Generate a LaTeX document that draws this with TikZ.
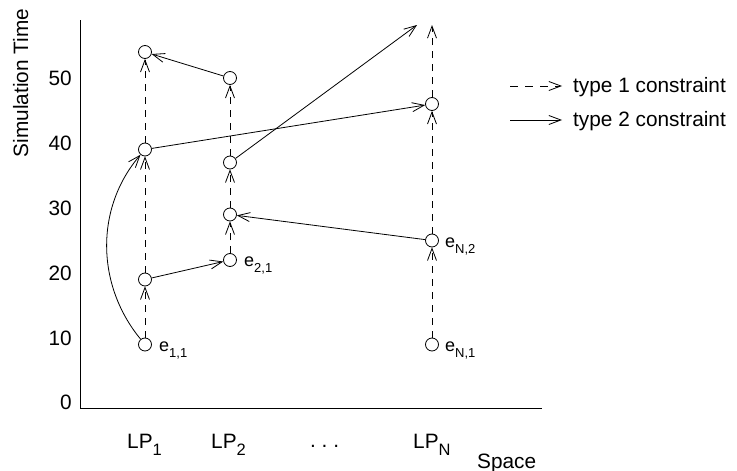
\documentclass[tikz,border=0pt]{standalone}
\usepackage{fontspec}
\setmainfont{Liberation Sans}
\usetikzlibrary{arrows.meta}
\newcommand\lpsub[1]{\raisebox{-7pt}{\fontsize{16.5}{16.5}\selectfont #1}}
\newcommand\evsub[1]{\raisebox{-6pt}{\fontsize{13}{13}\selectfont #1}}
\frenchspacing
\begin{document}
\begin{tikzpicture}[x=1pt,y=-1pt,
  font=\fontsize{20.8}{25}\selectfont,
  ev/.style={circle,draw,minimum size=13pt,inner sep=0pt,line width=0.8pt},
  tip/.style={-{Straight Barb[length=12pt,width=9pt]}},
  tone/.style={dash pattern=on 7pt off 6pt,line width=0.8pt,tip},
  ttwo/.style={line width=0.8pt,tip},
  lbl/.style={anchor=base west,inner sep=0pt},
  evl/.style={anchor=base west,inner sep=0pt,font=\fontsize{18}{20}\selectfont},
  tick/.style={anchor=east,inner sep=0pt}
  ]
\path[fill=white,use as bounding box] (0,0) rectangle (737,471);

% axes
\coordinate (ax0) at (80,20);
\coordinate (ax1) at (80,408);
\coordinate (ax2) at (542,408);
\draw[line width=0.8pt] (ax0) -- (ax1) -- (ax2);

% tick labels
\node[tick] (t0) at (72,402) {0};
\node[tick] (t10) at (72,338) {10};
\node[tick] (t20) at (72,273) {20};
\node[tick] (t30) at (72,208) {30};
\node[tick] (t40) at (72,143) {40};
\node[tick] (t50) at (72,78) {50};

\node[rotate=90,anchor=base,inner sep=0pt] (ylab) at (28,83) {Simulation Time};

% x labels
\node[lbl] (lp1) at (127,448) {LP\lpsub{1}};
\node[lbl] (lp2) at (211,448) {LP\lpsub{2}};
\node[lbl] (dots) at (310,447) {.~.~.};
\node[lbl] (lpn) at (413,448) {LP\lpsub{N}};
\node[lbl] (space) at (477,468) {Space};

% events
\node[ev] (e11) at (145,344.5) {};
\node[ev] (a19) at (145,279.5) {};
\node[ev] (a39) at (145,149.5) {};
\node[ev] (a54) at (145,52) {};
\node[ev] (e21) at (230,260) {};
\node[ev] (b29) at (230,214.5) {};
\node[ev] (b37) at (230,162.5) {};
\node[ev] (b50) at (230,78) {};
\node[ev] (eN1) at (432,344.5) {};
\node[ev] (eN2) at (432,240.5) {};
\node[ev] (c46) at (432,104) {};
\coordinate (ctop) at (432,25);
\coordinate (cfree) at (417,25);

% event labels
\node[evl] (le11) at (159,351) {e\evsub{1,1}};
\node[evl] (le21) at (244,266) {e\evsub{2,1}};
\node[evl] (leN1) at (445,351) {e\evsub{N,1}};
\node[evl] (leN2) at (445,247) {e\evsub{N,2}};

% type 1 constraints
\draw[tone] (e11) -- (a19);
\draw[tone] (a19) -- (a39);
\draw[tone] (a39) -- (a54);
\draw[tone] (e21) -- (b29);
\draw[tone] (b29) -- (b37);
\draw[tone] (b37) -- (b50);
\draw[tone] (eN1) -- (eN2);
\draw[tone] (eN2) -- (c46);
\draw[tone] (c46) -- (ctop);

% type 2 constraints
\draw[ttwo] (e11) .. controls (96,285) and (95,208) .. (a39);
\draw[ttwo] (a19) -- (e21);
\draw[ttwo] (a39) -- (c46);
\draw[ttwo] (b37) -- (cfree);
\draw[ttwo] (eN2) -- (b29);
\draw[ttwo] (b50) -- (a54);

% legend
\coordinate (l1a) at (510,86);
\coordinate (l1b) at (562,86);
\coordinate (l2a) at (510,120);
\coordinate (l2b) at (562,120);
\draw[tone,dash pattern=on 8pt off 7pt] (l1a) -- (l1b);
\draw[ttwo] (l2a) -- (l2b);
\node[lbl] (leg1) at (573,92) {type 1 constraint};
\node[lbl] (leg2) at (573,126) {type 2 constraint};
\end{tikzpicture}
\end{document}
